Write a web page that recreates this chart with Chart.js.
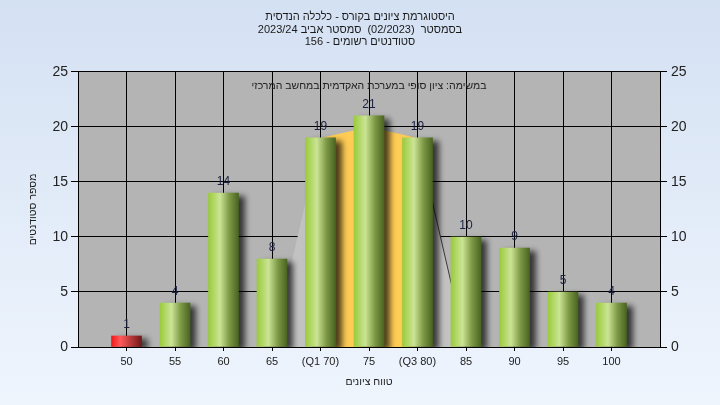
<!DOCTYPE html>
<html>
<head>
<meta charset="utf-8">
<script src="https://cdn.jsdelivr.net/npm/chart.js@4.4.0/dist/chart.umd.min.js"></script>
<style>
html, body { margin: 0; padding: 0; }
body { width: 720px; height: 405px; background: linear-gradient(#d4e1f3, #eff5fd); overflow: hidden; }
#caja { position: relative; width: 720px; height: 405px; }
</style>
</head>
<body>
<div id="caja"><canvas id="histograma" width="720" height="405"></canvas></div>
<script>
// datos
const categorias = ['50', '55', '60', '65', '(Q1 70)', '75', '(Q3 80)', '85', '90', '95', '100'];
const estudiantes = [1, 4, 14, 8, 19, 21, 19, 10, 9, 5, 4];
const ticksY = [0, 5, 10, 15, 20, 25];

// zona entre cuartiles y sus bordes (indice de categoria, valor)
const zonaCentralIdx = [4, 5, 6];
const zonaCentralVal = [19, 20, 19];
const bordeIzqIdx = [3, 4];
const bordeIzqVal = [0, 19];
const bordeDerIdx = [6, 7];
const bordeDerVal = [19, 0];

const titulo = [
    'היסטוגרמת ציונים בקורס - כלכלה הנדסית',
    'בסמסטר  (02/2023)  סמסטר אביב 2023/24',
    'סטודנטים רשומים - 156'
];
const subtitulo = 'במשימה: ציון סופי במערכת האקדמית במחשב המרכזי';

Chart.defaults.font.family = "'Liberation Sans', Arial, sans-serif";
Chart.defaults.color = '#222';

const puntos = (idx, val) => idx.map((x, i) => ({ x: x, y: val[i] }));

function colorBarra(ctx) {
    const chart = ctx.chart;
    if (!chart.chartArea || !ctx.raw) return '#9c3';
    const cx = chart.scales.x.getPixelForValue(ctx.raw.x);
    const g = chart.ctx.createLinearGradient(cx - 15, 0, cx + 15, 0);
    if (ctx.raw.x === 0) {
        g.addColorStop(0, '#f01818');
        g.addColorStop(0.3, '#ff5a5a');
        g.addColorStop(1, '#701818');
    } else {
        g.addColorStop(0, '#9acb3c');
        g.addColorStop(0.38, '#cbe495');
        g.addColorStop(0.7, '#7c9844');
        g.addColorStop(1, '#4a6422');
    }
    return g;
}

const fondoGris = {
    id: 'fondoGris',
    beforeDraw(chart) {
        const a = chart.chartArea;
        chart.ctx.save();
        chart.ctx.fillStyle = '#b4b4b4';
        chart.ctx.fillRect(a.left, a.top, a.right - a.left, a.bottom - a.top);
        chart.ctx.restore();
    }
};

const sombra = {
    id: 'sombra',
    beforeDatasetDraw(chart, args) {
        if (args.meta.type !== 'bar') return;
        const c = chart.ctx;
        c.save();
        c.shadowColor = 'rgba(0,0,0,0.7)';
        c.shadowBlur = 6;
        c.shadowOffsetX = 6;
        c.shadowOffsetY = 3;
    },
    afterDatasetDraw(chart, args) {
        if (args.meta.type === 'bar') chart.ctx.restore();
    }
};

const etiquetas = {
    id: 'etiquetas',
    afterDatasetsDraw(chart) {
        const c = chart.ctx;
        const meta = chart.getDatasetMeta(0);
        c.save();
        c.font = "12px 'Liberation Sans', Arial, sans-serif";
        c.fillStyle = '#1c2340';
        c.textAlign = 'center';
        c.textBaseline = 'middle';
        meta.data.forEach((el, i) => {
            c.fillText(String(estudiantes[i]), el.x, el.y - 11);
        });
        const a = chart.chartArea;
        c.font = "10.5px 'Liberation Sans', Arial, sans-serif";
        c.fillStyle = '#222';
        c.fillText(subtitulo, (a.left + a.right) / 2, a.top + 14);
        c.restore();
    }
};

const ctx = document.getElementById('histograma').getContext('2d');
const miGrafico = new Chart(ctx, {
    type: 'bar',
    data: {
        datasets: [
            {
                type: 'bar',
                data: puntos(categorias.map((c, i) => i), estudiantes),
                backgroundColor: colorBarra,
                borderWidth: 0,
                barThickness: 30,
                order: 0
            },
            {
                type: 'line',
                data: puntos(zonaCentralIdx, zonaCentralVal),
                backgroundColor: '#ffcc55',
                borderColor: '#ffcc55',
                borderWidth: 0,
                fill: 'origin',
                pointRadius: 0,
                tension: 0,
                order: 1
            },
            {
                type: 'line',
                data: puntos(bordeIzqIdx, bordeIzqVal),
                backgroundColor: '#c2c2c2',
                borderColor: 'rgba(0,0,0,0)',
                borderWidth: 0,
                fill: 'origin',
                pointRadius: 0,
                tension: 0,
                order: 2
            },
            {
                type: 'line',
                data: puntos(bordeDerIdx, bordeDerVal),
                backgroundColor: '#c2c2c2',
                borderColor: '#3a3a3a',
                borderWidth: 1,
                fill: 'origin',
                pointRadius: 0,
                tension: 0,
                order: 2
            }
        ]
    },
    options: {
        responsive: false,
        animation: false,
        maintainAspectRatio: false,
        layout: { padding: 0 },
        scales: {
            x: {
                type: 'linear',
                min: -1,
                max: 11,
                offset: false,
                afterBuildTicks: s => { s.ticks = categorias.map((c, i) => ({ value: i })); },
                afterFit: s => { s.height = 58; },
                ticks: {
                    autoSkip: false,
                    maxRotation: 0,
                    padding: 4,
                    font: { size: 11 },
                    color: '#222',
                    callback: v => categorias[Math.round(v)]
                },
                grid: { color: '#000', lineWidth: 1, tickLength: 4, offset: false },
                border: { color: '#000', width: 1 },
                title: {
                    display: true,
                    text: 'טווח ציונים',
                    font: { size: 10.5 },
                    color: '#222',
                    padding: { top: 0, bottom: 17 }
                }
            },
            y: {
                position: 'left',
                min: 0,
                max: 25,
                afterBuildTicks: s => { s.ticks = ticksY.map(v => ({ value: v })); },
                afterFit: s => { s.width = 78; },
                ticks: { font: { size: 14 }, color: '#222', padding: 3 },
                grid: { color: '#000', lineWidth: 1, tickLength: 7 },
                border: { color: '#000', width: 1 },
                title: {
                    display: true,
                    text: 'מספר סטודנטים',
                    font: { size: 10.5 },
                    color: '#222',
                    padding: { top: 27, bottom: 0 }
                }
            },
            y2: {
                position: 'right',
                min: 0,
                max: 25,
                afterBuildTicks: s => { s.ticks = ticksY.map(v => ({ value: v })); },
                afterFit: s => { s.width = 60; },
                ticks: { font: { size: 14 }, color: '#222', padding: 4 },
                grid: { color: '#000', lineWidth: 1, tickLength: 7, drawOnChartArea: false },
                border: { color: '#000', width: 1 }
            }
        },
        plugins: {
            legend: { display: false },
            tooltip: { enabled: false },
            title: {
                display: true,
                text: titulo,
                color: '#1a1a1a',
                font: { size: 11, weight: 'normal', lineHeight: 1.18 },
                padding: { top: 10, bottom: 23 }
            }
        }
    },
    plugins: [fondoGris, sombra, etiquetas]
});
</script>
</body>
</html>
